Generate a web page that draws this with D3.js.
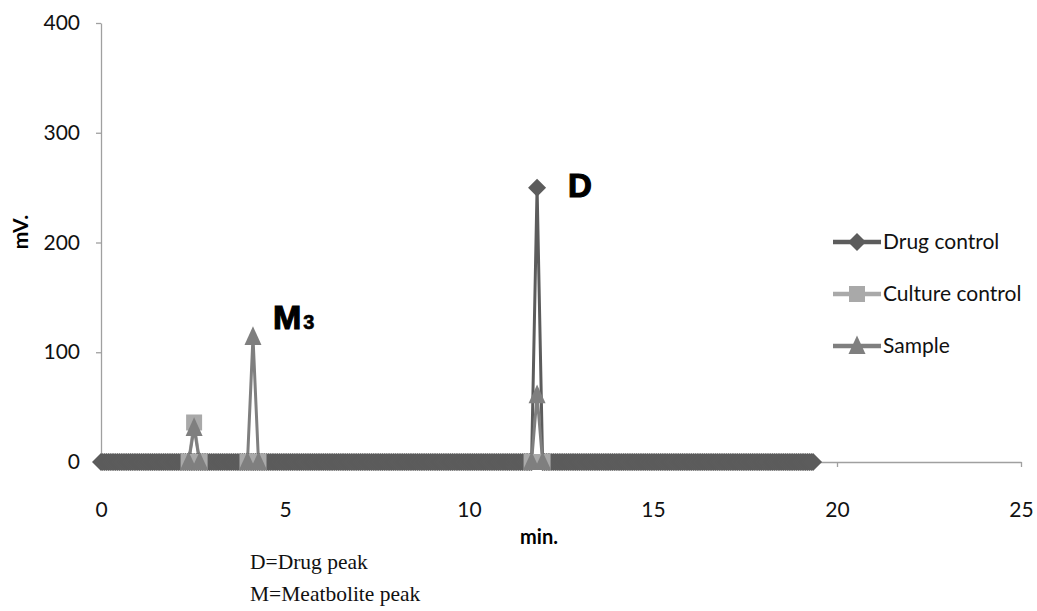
<!DOCTYPE html>
<html lang="en">
<head>
    <meta charset="UTF-8">
    <script src="https://d3js.org/d3.v7.min.js"></script>
    <title>Chromatogram</title>
    <style>
        body { margin:0; background:#fff; }
        .axis path, .axis line { stroke:#a0a0a0; stroke-width:1.3; }
        .axis text { font-family:Lato, "Open Sans", sans-serif; font-size:21px; fill:#111; }
        .series { fill:none; stroke-width:3; stroke-linejoin:round; }
    </style>
</head>
<body>
    <script>
        // x axis ticks and y axis ticks
        var xTicks = [0, 5, 10, 15, 20, 25];
        var yTicks = [0, 100, 200, 300, 400];

        // drug control: baseline sampled every 0.05 min from 0 to 19.35 min, zero except one peak
        var drugRun = [0, 19.35, 0.05];
        var drugPeak = [[11.7, 0], [11.85, 250], [12.0, 0]];

        // culture control and sample (min, mV)
        var cultureTimes = [2.38, 2.53, 2.68, 3.98, 4.28, 11.7, 12.0];
        var cultureValues = [0, 36, 0, 0, 0, 0, 0];
        var sampleTimes = [2.38, 2.53, 2.68, 3.98, 4.13, 4.28, 11.7, 11.85, 12.0];
        var sampleValues = [0, 31, 0, 0, 114, 0, 0, 61, 0];

        var seriesNames = ["Drug control", "Culture control", "Sample"];
        var seriesColors = ["#5c5c5c", "#a9a9a9", "#7f7f7f"];

        // baseline points of the drug run, leaving out the peak window
        var drugData = d3.range(drugRun[0], drugRun[1] + 1e-9, drugRun[2])
            .map(function(t){ return [Math.round(t*100)/100, 0]; })
            .filter(function(d){ return d[0] < drugPeak[0][0] || d[0] > drugPeak[2][0]; })
            .concat(drugPeak)
            .sort(function(a,b){ return a[0]-b[0]; });
        var cultureData = cultureTimes.map(function(t,i){ return [t, cultureValues[i]]; });
        var sampleData = sampleTimes.map(function(t,i){ return [t, sampleValues[i]]; });
        var allData = [drugData, cultureData, sampleData];

        var width = 1037, height = 611;
        var xscale = d3.scaleLinear().domain([0,25]).range([101,1021]);
        var yscale = d3.scaleLinear().domain([0,400]).range([462,23]);

        var svg = d3.select("body").append("svg").attr("width",width).attr("height",height)
                    .style("background","#fff");

        var xaxis = d3.axisBottom(xscale).tickValues(xTicks).tickSize(5).tickSizeOuter(0).tickPadding(35);
        var yaxis = d3.axisLeft(yscale).tickValues(yTicks).tickSize(5).tickSizeOuter(0).tickPadding(16);

        svg.append("g").attr("class","axis").attr("transform","translate(0,"+yscale(0)+")").call(xaxis);
        svg.append("g").attr("class","axis").attr("transform","translate("+xscale(0)+",0)").call(yaxis);

        var line = d3.line().x(function(d){ return xscale(d[0]); }).y(function(d){ return yscale(d[1]); });

        // excel-like markers, size = half width
        var diamond = { draw: function(c, s){ c.moveTo(0,-s); c.lineTo(s,0); c.lineTo(0,s); c.lineTo(-s,0); c.closePath(); } };
        var square = { draw: function(c, s){ c.rect(-s,-s,2*s,2*s); } };
        var triangle = { draw: function(c, s){ c.moveTo(0,-s*1.25); c.lineTo(s,s*0.95); c.lineTo(-s,s*0.95); c.closePath(); } };
        var symbols = [diamond, square, triangle];
        var symbolSizes = [9, 8, 8.5];

        // lines first (culture and sample stay under the drug markers band)
        allData.forEach(function(data, i){
            svg.append("path").attr("class","series").attr("d",line(data))
               .attr("stroke",seriesColors[i]);
        });
        allData.forEach(function(data, i){
            svg.append("g").selectAll("path").data(data).join("path")
               .attr("transform",function(d){ return "translate("+xscale(d[0])+","+yscale(d[1])+")"; })
               .attr("d",d3.symbol().type(symbols[i]).size(symbolSizes[i]))
               .attr("fill",seriesColors[i]);
        });

        // axis titles
        svg.append("text").attr("transform","translate(28,232) rotate(-90)")
           .attr("text-anchor","middle").style("font-family","Lato, sans-serif")
           .style("font-weight","bold").style("font-size","21px").text("mV.");
        svg.append("text").attr("x",539).attr("y",544).attr("text-anchor","middle")
           .style("font-family","Lato, sans-serif").style("font-weight","bold")
           .style("font-size","20px").text("min.");

        // peak labels
        svg.append("text").attr("x",568).attr("y",197)
           .style("font-family","Liberation Sans, Arial, sans-serif").style("font-weight","900")
           .style("font-size","33px").attr("stroke","#000").attr("stroke-width",1.2).text("D");
        var m = svg.append("text").attr("x",273).attr("y",329)
           .style("font-family","Liberation Sans, Arial, sans-serif").style("font-weight","900")
           .style("font-size","34px").attr("stroke","#000").attr("stroke-width",1.2);
        m.append("tspan").text("M");
        m.append("tspan").attr("dx",2).style("font-size","20px").attr("stroke-width",0.6).text("3");

        // legend
        var legend = svg.append("g");
        var legendY = [242, 294, 346];
        seriesNames.forEach(function(name, i){
            var g = legend.append("g").attr("transform","translate(0,"+legendY[i]+")");
            g.append("line").attr("x1",833).attr("x2",881).attr("y1",0).attr("y2",0)
             .attr("stroke",seriesColors[i]).attr("stroke-width",4.5);
            g.append("path").attr("transform","translate(857,0)")
             .attr("d",d3.symbol().type(symbols[i]).size(symbolSizes[i]))
             .attr("fill",seriesColors[i]);
            g.append("text").attr("x",883).attr("y",7).style("font-family","Lato, sans-serif")
             .style("font-size","21px").attr("fill","#111").text(name);
        });

        // footnote
        var notes = ["D=Drug peak", "M=Meatbolite peak"];
        svg.append("g").selectAll("text").data(notes).join("text")
           .attr("x",250).attr("y",function(d,i){ return 569 + i*32; })
           .style("font-family","Liberation Serif, serif").style("font-size","21.5px")
           .attr("fill","#111").text(function(d){ return d; });
    </script>
</body>
</html>
